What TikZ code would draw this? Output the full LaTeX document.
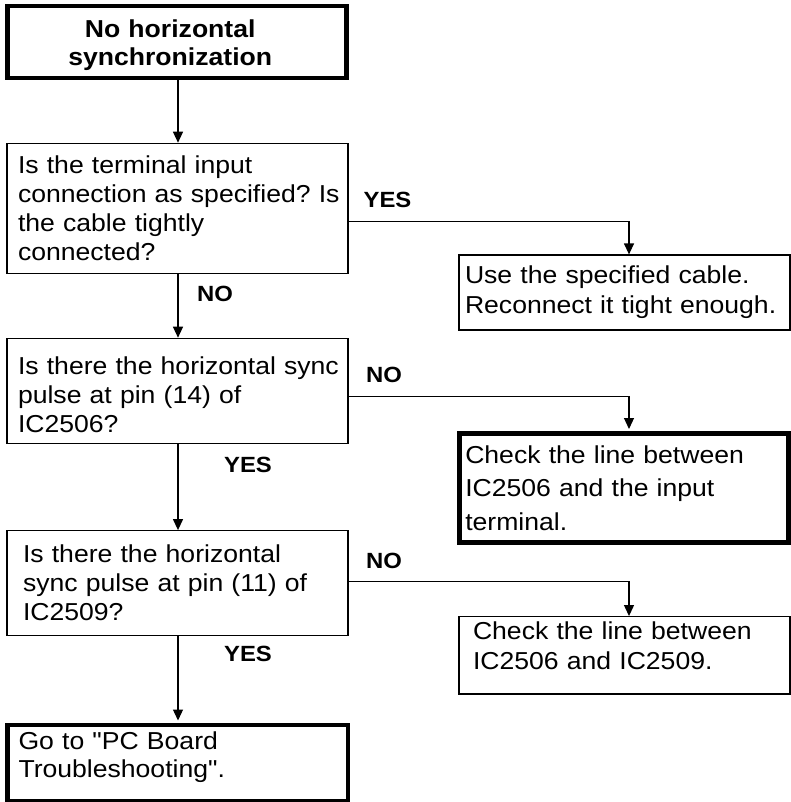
\documentclass[tikz,border=0pt]{standalone}
\usepackage{fontspec}
\setmainfont{Liberation Sans}[FakeStretch=1.085, Ligatures=TeXOff]
\usetikzlibrary{arrows.meta}
\newcommand\bodyfs[1]{\fontsize{24.5}{#1}\selectfont}
\newcommand\ml[1]{\mbox{#1}}
\frenchspacing
\begin{document}
\begin{tikzpicture}[x=1pt,y=-1pt,
  box/.style={draw, line width=1.2pt, rectangle, inner ysep=0pt, align=left, anchor=center},
  thickbox/.style={box, line width=4.5pt},
  arr/.style={line width=1.2pt, -{Triangle[width=10pt,length=11pt]}},
  lab/.style={font=\fontsize{22}{26}\selectfont\bfseries, inner sep=0pt}]
\useasboundingbox (0,0) rectangle (791,802);

\node[thickbox, align=center, minimum width=339pt, minimum height=72pt, inner xsep=19.5pt, text width=300pt,
  font=\fontsize{24.5}{28.4}\selectfont\bfseries] (top) at (177.2,42)
  {\ml{\rule{0pt}{23.5pt}No horizontal\hspace{14pt}}\\\ml{synchronization\hspace{14pt}}};

\node[box, minimum width=341pt, minimum height=130pt, inner xsep=11pt, text width=319pt, font=\bodyfs{29}] (q1) at (177.5,208.3)
  {\ml{Is the terminal input}\\\ml{connection as specified? Is}\\\ml{the cable tightly}\\\ml{connected?}};

\node[box, minimum width=331pt, minimum height=75pt, inner xsep=6pt, text width=319pt, font=\bodyfs{30}] (a1) at (624.5,292.5)
  {\ml{Use the specified cable.}\\\ml{Reconnect it tight enough.}};

\node[box, minimum width=341pt, minimum height=105pt, inner xsep=11pt, text width=319pt, font=\bodyfs{29}] (q2) at (177.5,390.8)
  {\ml{\rule{0pt}{25pt}Is there the horizontal sync}\\\ml{pulse at pin (14) of}\\\ml{IC2506?}};

\node[thickbox, minimum width=329.3pt, minimum height=109pt, inner xsep=6pt, text width=317.3pt, font=\bodyfs{33.3}] (a2) at (623.9,488)
  {\ml{Check the line between}\\\ml{IC2506 and the input}\\\ml{terminal.}};

\node[box, minimum width=341pt, minimum height=105pt, inner xsep=16pt, text width=309pt, font=\bodyfs{29}] (q3) at (177.5,583.2)
  {\ml{Is there the horizontal}\\\ml{sync pulse at pin (11) of}\\\ml{IC2509?}};

\node[box, minimum width=331pt, minimum height=77.3pt, inner xsep=14pt, text width=303pt, font=\bodyfs{30}] (a3) at (624.5,655.3)
  {\ml{Check the line between}\\\ml{IC2506 and IC2509.\rule[-20pt]{0pt}{0pt}}};

\node[thickbox, minimum width=340.5pt, minimum height=76pt, inner xsep=11pt, text width=318.5pt, font=\bodyfs{28.3}] (fin) at (177.75,763)
  {\ml{Go to "PC Board}\\\ml{Troubleshooting".\rule[-17pt]{0pt}{0pt}}};

\node[lab] (yes1) at (387.5,199.5) {YES};
\node[lab] (no1) at (215,294) {NO};
\node[lab] (no2) at (384,375.3) {NO};
\node[lab] (yes2) at (248,465) {YES};
\node[lab] (no3) at (384,561) {NO};
\node[lab] (yes3) at (248,653.5) {YES};

\draw[arr] ([xshift=0.5pt]q1.north |- top.south) -- ([xshift=0.5pt]q1.north);
\draw[arr] ([xshift=0.5pt]q1.south) -- ([xshift=0.5pt]q2.north);
\draw[arr] ([xshift=0.5pt]q2.south) -- ([xshift=0.5pt]q3.north);
\draw[arr, shorten >=2.25pt] ([xshift=0.5pt]q3.south) -- ([xshift=0.5pt]q3.south |- fin.north);

\draw[arr] ([yshift=-13.4pt]q1.east) -| ([xshift=4.5pt]a1.north);
\draw[arr, shorten >=2.25pt] ([yshift=-5.9pt]q2.east) -| ([xshift=5.1pt]a2.north);
\draw[arr] ([yshift=2pt]q3.east) -| ([xshift=4.5pt]a3.north);
\end{tikzpicture}
\end{document}
